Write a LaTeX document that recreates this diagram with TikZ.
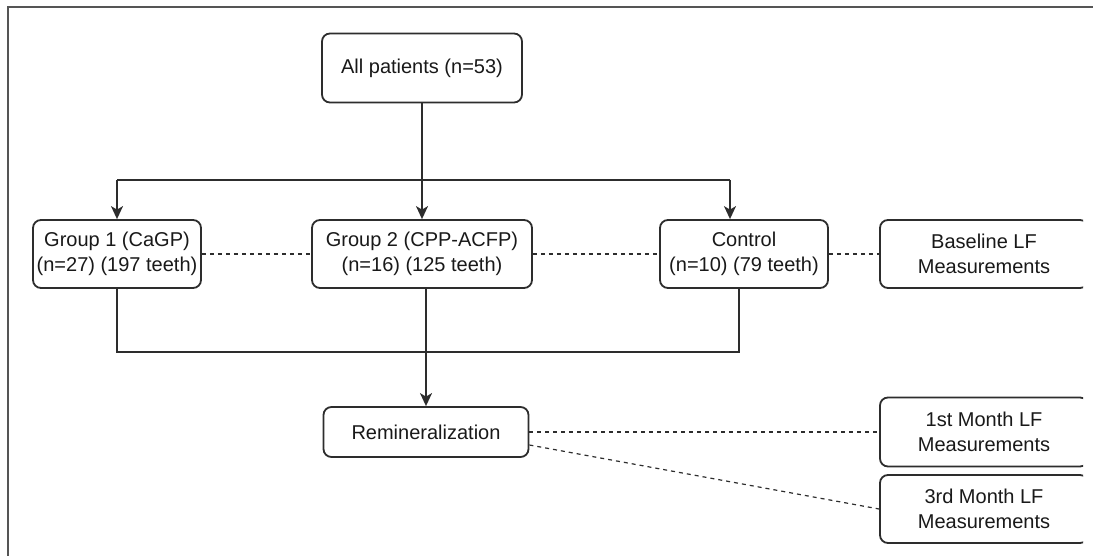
\documentclass[tikz,border=0pt]{standalone}
\usepackage{fontspec}
\setmainfont{Liberation Sans}
\usetikzlibrary{arrows.meta,positioning}
\definecolor{linegray}{RGB}{45,45,45}
\definecolor{framegray}{RGB}{85,85,85}

\begin{document}
\begin{tikzpicture}[
  x=1pt, y=-1pt,
  box/.style={draw=linegray, line width=1.8pt, rounded corners=8pt, fill=white,
              inner sep=0pt, align=center, text=black!90,
              font=\fontsize{20}{24.5}\selectfont},
  arr/.style={-{Stealth[length=13pt, width=12pt, inset=3.5pt]}, line width=1.7pt, linegray},
  link/.style={line width=1.7pt, linegray},
  dots/.style={dashed, dash pattern=on 4pt off 4pt, line width=1.2pt, linegray}
]
  \useasboundingbox (0,0) rectangle (1093,556);
  % Frame
  \draw[framegray, line width=2.4pt] (1093,7) -- (8,7) -- (8,556);

  % Start
  \node[box, minimum width=200, minimum height=69] (all) at (422,68) {All patients (n=53)};
  % Groups
  \node[box, minimum width=168, minimum height=68] (grp1) at (117,254) {Group 1 (CaGP)\\(n=27) (197 teeth)};
  \node[box, minimum width=220, minimum height=68] (grp2) at (422,254) {Group 2 (CPP-ACFP)\\(n=16) (125 teeth)};
  \node[box, minimum width=168, minimum height=68] (ctrl) at (744,254) {Control\\(n=10) (79 teeth)};
  % Treatment
  \node[box, minimum width=205, minimum height=50] (remin) at (426,432) {Remineralization};

  % Measurements (cut at the right edge)
  \begin{scope}
    \clip (0,0) rectangle (1083,556);
    \node[box, minimum width=208, minimum height=68] (base) at (984,254) {Baseline LF\\Measurements};
    \node[box, minimum width=208, minimum height=69] (month1) at (984,432) {1st Month LF\\Measurements};
    \node[box, minimum width=208, minimum height=68] (month3) at (984,509) {3rd Month LF\\Measurements};
  \end{scope}

  % Split
  \coordinate (split) at (422,180);
  \coordinate (ctrlin) at (730,180);
  \draw[link] (grp1.north |- split) -- (ctrlin);
  \draw[link] (all.south) -- (split);
  \draw[arr] (split) -- (grp2.north);
  \draw[arr] (grp1.north |- split) -- (grp1.north);
  \draw[arr] (ctrlin) -- (ctrlin |- ctrl.north);

  % Merge
  \coordinate (merge) at (426,352);
  \coordinate (ctrlout) at (739,288);
  \draw[link] (grp1.south) -- (grp1.south |- merge) -- (ctrlout |- merge) -- (ctrlout);
  \draw[link] (merge |- grp2.south) -- (merge);
  \draw[arr] (merge) -- (remin.north);

  % Dashed links
  \draw[dots] (grp1.east) -- (grp2.west);
  \draw[dots] (grp2.east) -- (ctrl.west);
  \draw[dots] (ctrl.east) -- (base.west);
  \draw[dots] (remin.east) -- (month1.west);
  \draw[dots] ([yshift=-13pt]remin.east) -- (month3.west);
\end{tikzpicture}
\end{document}
